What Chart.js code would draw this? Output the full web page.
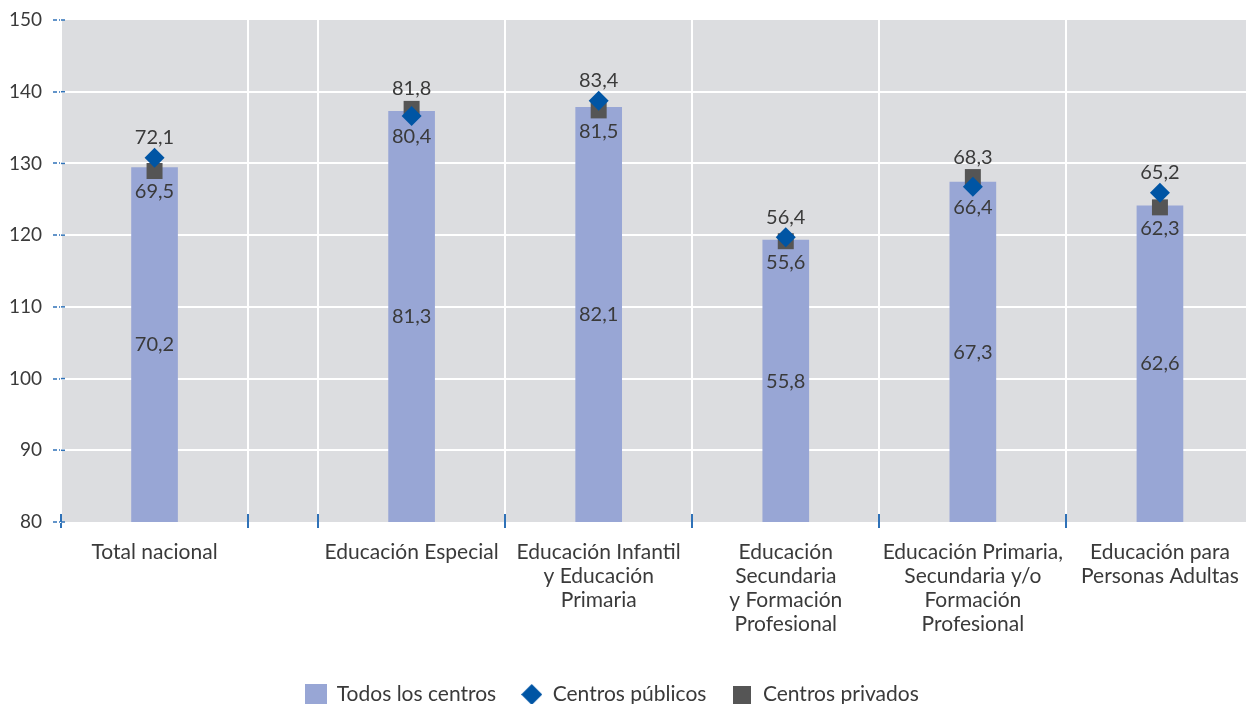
<!DOCTYPE html>
<html>
<head>
<meta charset="utf-8">
<script src="https://cdn.jsdelivr.net/npm/chart.js@4.4.1/dist/chart.umd.min.js"></script>
<style>
  html, body { margin: 0; padding: 0; background: #ffffff; overflow: hidden; }
  #wrap { width: 1246px; height: 715px; }
</style>
</head>
<body>
<div id="wrap"><canvas id="chart" width="1246" height="715"></canvas></div>
<script>
// ---------- DATA ----------
const categories = [
  ['Total nacional'],
  ['Educación Especial'],
  ['Educación Infantil', 'y Educación', 'Primaria'],
  ['Educación', 'Secundaria', 'y Formación', 'Profesional'],
  ['Educación Primaria,', 'Secundaria y/o', 'Formación', 'Profesional'],
  ['Educación para', 'Personas Adultas']
];
const todosLosCentros = [70.2, 81.3, 82.1, 55.8, 67.3, 62.6];
const centrosPublicos = [72.1, 80.4, 83.4, 56.4, 66.4, 65.2];
const centrosPrivados = [69.5, 81.8, 81.5, 55.6, 68.3, 62.3];
const seriesNames = ['Todos los centros', 'Centros públicos', 'Centros privados'];
const yTickValues = [80, 90, 100, 110, 120, 130, 140, 150];

// ---------- LAYOUT / STYLE ----------
const FONT = 'Lato';
const TEXT = '#3a3a3a';
const BAR_COLOR = '#98a6d5';
const PUB_COLOR = '#0055a4';
const PRIV_COLOR = '#555555';
const PLOT_BG = '#dcdde0';
const TICK_BLUE = '#2f72b8';
const GAP = 0.374;      // blank band after the first category (in category widths)
const X_MAX = 6.334;    // plot is cut at the right edge
const DATA_MAX = 99.4;  // range of the (hidden) value axis the marks are drawn on
const LEGEND_SHIFT = -11;

const xPos = i => i + 0.5 + (i > 0 ? GAP : 0);
const boundaries = [0, 1].concat([1, 2, 3, 4, 5, 6].map(k => k + GAP)).filter(v => v <= X_MAX);
const centres = categories.map((_, i) => xPos(i));
const xTickValues = boundaries.concat(centres).sort((a, b) => a - b);
const near = (a, b) => Math.abs(a - b) < 1e-6;
const isBoundary = v => boundaries.some(b => near(b, v));
const fmt = v => v.toFixed(1).replace('.', ',');

function swatch(shape, w, h, color) {
  const c = document.createElement('canvas');
  c.width = w; c.height = h;
  const g = c.getContext('2d');
  g.fillStyle = color;
  if (shape === 'diamond') {
    g.beginPath();
    g.moveTo(w / 2, 0); g.lineTo(w, h / 2); g.lineTo(w / 2, h); g.lineTo(0, h / 2);
    g.closePath(); g.fill();
  } else {
    g.fillRect(0, 0, w, h);
  }
  return c;
}
const legendSwatches = [
  swatch('rect', 22, 22, BAR_COLOR),
  swatch('diamond', 21, 21, PUB_COLOR),
  swatch('rect', 18, 18, PRIV_COLOR)
];

const plotBackground = {
  id: 'plotBackground',
  beforeDraw(chart) {
    const a = chart.chartArea, ctx = chart.ctx;
    ctx.save();
    ctx.fillStyle = PLOT_BG;
    ctx.fillRect(a.left, a.top, a.right - a.left, a.bottom - a.top);
    ctx.restore();
    const lg = chart.legend;
    if (lg && !lg._shifted) {
      const orig = lg.draw.bind(lg);
      lg.draw = function (area) {
        chart.ctx.save();
        chart.ctx.translate(LEGEND_SHIFT, 0);
        orig(area);
        chart.ctx.restore();
      };
      lg._shifted = true;
    }
  }
};

const innerTicks = {
  id: 'innerTicks',
  afterDraw(chart) {
    const ctx = chart.ctx, a = chart.chartArea;
    const xs = chart.scales.x, ys = chart.scales.y;
    ctx.save();
    ctx.strokeStyle = TICK_BLUE;
    ctx.lineWidth = 2;
    boundaries.forEach(b => {
      const px = Math.round(xs.getPixelForValue(b));
      ctx.beginPath(); ctx.moveTo(px, a.bottom - 8); ctx.lineTo(px, a.bottom); ctx.stroke();
    });
    ctx.lineWidth = 1.5;
    ctx.setLineDash([4, 2]);
    ys.ticks.forEach(t => {
      const py = ys.getPixelForValue(t.value);
      ctx.beginPath(); ctx.moveTo(a.left, py); ctx.lineTo(a.left + 6, py); ctx.stroke();
    });
    ctx.restore();
  }
};

const valueLabels = {
  id: 'valueLabels',
  afterDatasetsDraw(chart) {
    const ctx = chart.ctx;
    const bars = chart.getDatasetMeta(0).data;
    const pub = chart.getDatasetMeta(1).data;
    const priv = chart.getDatasetMeta(2).data;
    ctx.save();
    ctx.font = '20px ' + FONT;
    ctx.fillStyle = TEXT;
    ctx.textAlign = 'center';
    ctx.textBaseline = 'middle';
    bars.forEach((b, i) => {
      ctx.fillText(fmt(todosLosCentros[i]), b.x, (b.y + b.base) / 2);
      const p = pub[i], q = priv[i];
      let hi, hiV, lo, loV;
      if (p.y <= q.y) { hi = p; hiV = centrosPublicos[i]; lo = q; loV = centrosPrivados[i]; }
      else { hi = q; hiV = centrosPrivados[i]; lo = p; loV = centrosPublicos[i]; }
      ctx.fillText(fmt(hiV), hi.x, hi.y - 20);
      ctx.fillText(fmt(loV), lo.x, lo.y + 21);
    });
    ctx.restore();
  }
};

Chart.defaults.font.family = FONT;
Chart.defaults.color = TEXT;

new Chart(document.getElementById('chart'), {
  type: 'bar',
  data: {
    datasets: [
      {
        type: 'bar',
        label: seriesNames[0],
        yAxisID: 'yData',
        data: todosLosCentros.map((v, i) => ({ x: xPos(i), y: v })),
        backgroundColor: BAR_COLOR,
        barThickness: 46,
        order: 3
      },
      {
        type: 'line',
        label: seriesNames[1],
        yAxisID: 'yData',
        data: centrosPublicos.map((v, i) => ({ x: xPos(i), y: v })),
        showLine: false,
        pointStyle: 'rectRot',
        pointRadius: 10,
        pointBorderWidth: 0,
        backgroundColor: PUB_COLOR,
        borderColor: PUB_COLOR,
        order: 1
      },
      {
        type: 'line',
        label: seriesNames[2],
        yAxisID: 'yData',
        data: centrosPrivados.map((v, i) => ({ x: xPos(i), y: v })),
        showLine: false,
        pointStyle: 'rect',
        pointRadius: 11.3,
        pointBorderWidth: 0,
        backgroundColor: PRIV_COLOR,
        borderColor: PRIV_COLOR,
        order: 2
      }
    ]
  },
  options: {
    responsive: false,
    animation: false,
    devicePixelRatio: 1,
    events: [],
    layout: { autoPadding: false, padding: { top: 20, right: 0, left: 0, bottom: 0 } },
    scales: {
      x: {
        type: 'linear',
        min: 0,
        max: X_MAX,
        offset: false,
        afterBuildTicks: s => { s.ticks = xTickValues.map(v => ({ value: v })); },
        afterFit: s => { s.height = 137; s.paddingLeft = 0; s.paddingRight = 0; },
        border: { display: false },
        grid: {
          offset: false,
          lineWidth: 2,
          color: c => (c.tick && isBoundary(c.tick.value)) ? '#ffffff' : 'rgba(0,0,0,0)',
          drawTicks: true,
          tickLength: 6,
          tickWidth: 2,
          tickColor: c => (c.tick && isBoundary(c.tick.value)) ? TICK_BLUE : 'rgba(0,0,0,0)'
        },
        ticks: {
          autoSkip: false,
          maxRotation: 0,
          minRotation: 0,
          padding: 12,
          color: TEXT,
          font: { family: FONT, size: 21, lineHeight: 1.143 },
          callback: v => {
            const k = centres.findIndex(c => near(c, v));
            return k >= 0 ? categories[k] : '';
          }
        }
      },
      y: {
        position: 'left',
        min: yTickValues[0],
        max: yTickValues[yTickValues.length - 1],
        afterBuildTicks: s => { s.ticks = yTickValues.map(v => ({ value: v })); },
        afterFit: s => { s.width = 61; s.paddingTop = 0; s.paddingBottom = 0; },
        border: { display: true, color: '#ffffff', width: 2 },
        grid: {
          lineWidth: 2,
          color: c => (c.index === 0 || c.index === yTickValues.length - 1) ? 'rgba(0,0,0,0)' : '#ffffff',
          drawTicks: true,
          tickLength: 8,
          tickWidth: 1.5,
          tickColor: TICK_BLUE,
          tickBorderDash: [4, 2]
        },
        ticks: {
          padding: 11,
          color: TEXT,
          font: { family: FONT, size: 19 },
          callback: v => String(v)
        }
      },
      yData: {
        display: false,
        position: 'right',
        min: 0,
        max: DATA_MAX
      }
    },
    plugins: {
      tooltip: { enabled: false },
      legend: {
        display: true,
        position: 'bottom',
        labels: {
          usePointStyle: true,
          boxWidth: 22,
          boxHeight: 21,
          padding: 25,
          color: TEXT,
          font: { family: FONT, size: 21 },
          generateLabels(chart) {
            const items = Chart.defaults.plugins.legend.labels.generateLabels(chart);
            items.forEach(it => { it.pointStyle = legendSwatches[it.datasetIndex]; });
            return items.sort((a, b) => a.datasetIndex - b.datasetIndex);
          }
        }
      }
    }
  },
  plugins: [plotBackground, innerTicks, valueLabels]
});
</script>
</body>
</html>
